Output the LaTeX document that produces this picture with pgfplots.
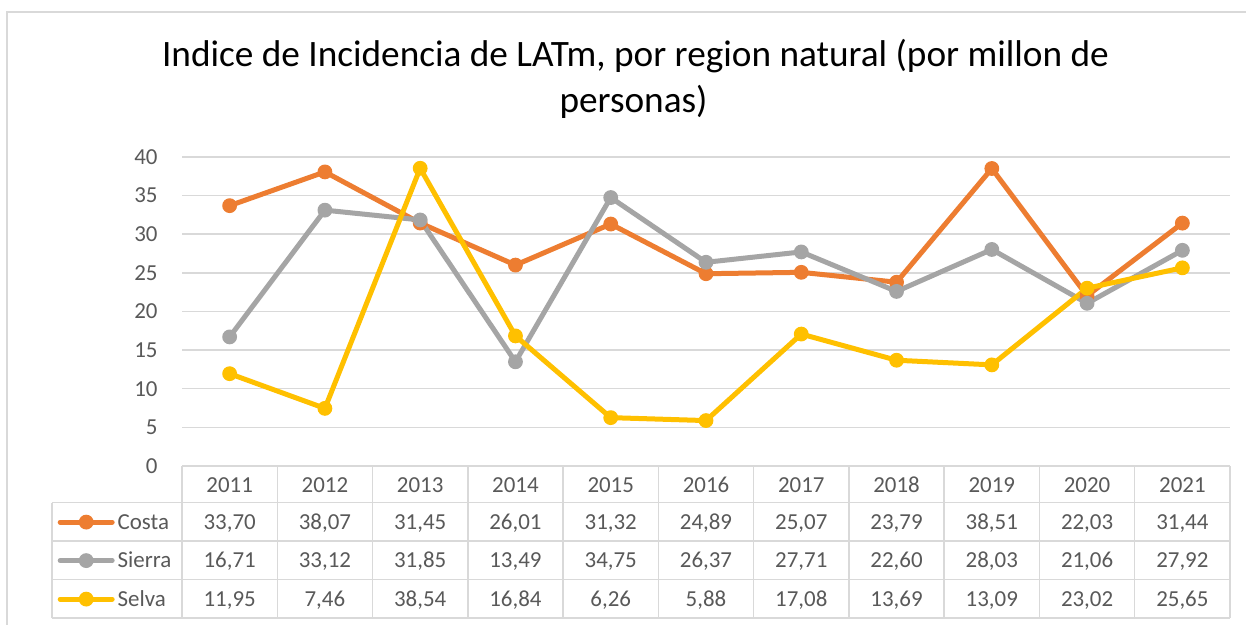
\documentclass[border=0pt]{standalone}
\usepackage{fontspec}
\setmainfont{Carlito}
\usepackage{pgfplots}
\pgfplotsset{compat=1.18}
\definecolor{costa}{HTML}{ED7D31}
\definecolor{sierra}{HTML}{A5A5A5}
\definecolor{selva}{HTML}{FFC000}
\definecolor{txt}{HTML}{595959}
\definecolor{gridc}{HTML}{D9D9D9}
\begin{document}
\begin{tikzpicture}
\useasboundingbox (0,0) rectangle (623bp,312.5bp);
\fill[white] (0,0) rectangle (623bp,312.5bp);
\draw[gridc, line width=0.75bp] (3.5bp,-5bp) -- (3.5bp,306.5bp) -- (630bp,306.5bp);
\node[anchor=base, inner sep=0pt, font=\fontsize{18.7}{22}\selectfont] at (317.75bp,279bp) {Indice de Incidencia de LATm, por region natural (por millon de};
\node[anchor=base, inner sep=0pt, font=\fontsize{18.7}{22}\selectfont] at (316.75bp,256bp) {personas)};
\begin{axis}[
  at={(91bp,79.5bp)}, anchor=south west,
  width=524bp, height=154.5bp, scale only axis,
  xmin=-0.5, xmax=10.5, ymin=0, ymax=40,
  ytick={0,5,...,40}, xtick={0,...,10},
  xticklabels={2011,2012,2013,2014,2015,2016,2017,2018,2019,2020,2021},
  axis line style={draw=none}, tick style={draw=none},
  ymajorgrids, grid style={gridc, line width=0.75bp},
  clip=false,
  /pgf/number format/assume math mode=true,
  ticklabel style={font=\fontsize{11.5}{13}\selectfont, text=txt, inner sep=0pt},
  yticklabel style={anchor=east, xshift=-12bp},
  xticklabel style={anchor=base, yshift=-13.1bp},
  legend style={at={(-0.1186,-0.1193)}, anchor=north west, draw=none, fill=none,
    inner sep=0pt, outer sep=0pt, row sep=0pt, column sep=1.5bp,
    nodes={inner sep=0pt, text height=13.1bp, text depth=6.15bp, text=txt,
      font=\fontsize{11.5}{13}\selectfont}},
  legend cell align=left,
  legend image code/.code={\draw[mark repeat=2,mark phase=2,#1] plot coordinates {(0bp,0bp) (13bp,0bp) (26bp,0bp)};},
  every axis plot/.append style={line width=2.5bp, mark=*, mark size=3.4bp, line join=round, line cap=round, mark options={solid, line width=0.6bp}},
]
\addplot[costa] coordinates {(0,33.70) (1,38.07) (2,31.45) (3,26.01) (4,31.32) (5,24.89) (6,25.07) (7,23.79) (8,38.51) (9,22.03) (10,31.44)};
\addlegendentry{Costa}
\addplot[sierra] coordinates {(0,16.71) (1,33.12) (2,31.85) (3,13.49) (4,34.75) (5,26.37) (6,27.71) (7,22.60) (8,28.03) (9,21.06) (10,27.92)};
\addlegendentry{Sierra}
\addplot[selva] coordinates {(0,11.95) (1,7.46) (2,38.54) (3,16.84) (4,6.26) (5,5.88) (6,17.08) (7,13.69) (8,13.09) (9,23.02) (10,25.65)};
\addlegendentry{Selva}
\end{axis}
\begin{scope}[gridc, line width=0.75bp]
\foreach \y in {61.125,41.875,22.625,3.375} \draw (26bp,\y bp) -- (615bp,\y bp);
\draw (26bp,3.375bp) -- (26bp,61.125bp);
\foreach \k in {0,...,11} \draw ({91bp+47.636bp*\k},3.375bp) -- ({91bp+47.636bp*\k},79.5bp);
\end{scope}
\begin{scope}[every node/.style={anchor=base, inner sep=0pt, text=txt, font=\fontsize{11.5}{13}\selectfont}]
\foreach \v [count=\i from 0] in {33{,}70,38{,}07,31{,}45,26{,}01,31{,}32,24{,}89,25{,}07,23{,}79,38{,}51,22{,}03,31{,}44}
  \node at ({114.818bp+47.636bp*\i},47.9bp) {\v};
\foreach \v [count=\i from 0] in {16{,}71,33{,}12,31{,}85,13{,}49,34{,}75,26{,}37,27{,}71,22{,}60,28{,}03,21{,}06,27{,}92}
  \node at ({114.818bp+47.636bp*\i},28.65bp) {\v};
\foreach \v [count=\i from 0] in {11{,}95,7{,}46,38{,}54,16{,}84,6{,}26,5{,}88,17{,}08,13{,}69,13{,}09,23{,}02,25{,}65}
  \node at ({114.818bp+47.636bp*\i},9.4bp) {\v};
\end{scope}
\end{tikzpicture}
\end{document}
